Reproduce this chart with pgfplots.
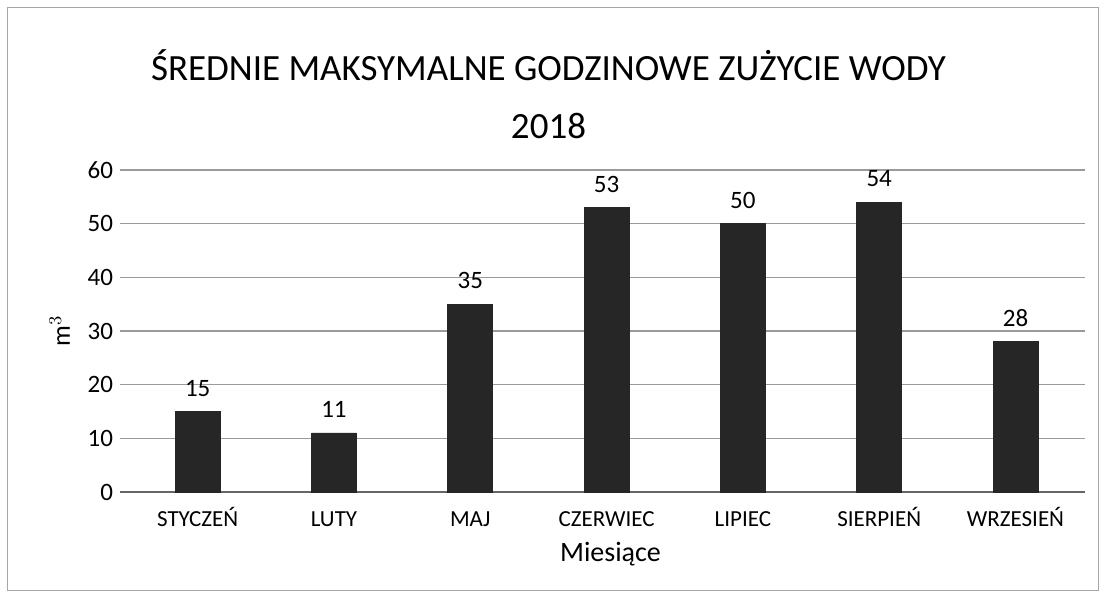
\documentclass[border=0pt]{standalone}
\usepackage{pgfplots}
\pgfplotsset{compat=1.18}
\usepackage{fontspec}
\setmainfont{Carlito}
\definecolor{barc}{HTML}{262626}
\definecolor{gridc}{HTML}{9A9A9A}
\begin{document}
\begin{tikzpicture}
\useasboundingbox (-60pt,-54.5pt) rectangle (491.5pt,246pt);
\draw[gray!70, line width=0.5pt] (-56pt,-49pt) rectangle (489pt,242pt);
\begin{axis}[
  at={(0pt,0pt)}, anchor=south west,
  scale only axis, width=482.5pt, height=161pt,
  xmin=-0.57, xmax=6.51, ymin=0, ymax=60,
  ytick={0,10,...,60},
  xtick=data,
  xticklabels={STYCZEŃ,LUTY,MAJ,CZERWIEC,LIPIEC,SIERPIEŃ,WRZESIEŃ},
  xticklabel style={font=\fontsize{11.5}{13}\selectfont, text height=1.6ex, text depth=0.2ex, yshift=-6pt},
  yticklabel style={font=\fontsize{12.5}{14}\selectfont},
  /pgf/number format/assume math mode=true,
  axis line style={draw=none},
  major tick length=0pt,
  ymajorgrids, grid style={gridc, line width=0.6pt},
  extra y ticks={0}, extra y tick labels={}, extra y tick style={grid style={black!60, line width=0.8pt}},
  ybar, bar width=22.5pt,
  nodes near coords,
  every node near coord/.append style={font=\fontsize{12.5}{14}\selectfont, black, yshift=4pt},
  xlabel={Miesiące}, xlabel style={font=\fontsize{14}{16}\selectfont, yshift=0pt, xshift=4pt},
  ylabel={m$^{3}$}, ylabel style={font=\fontsize{13}{15}\selectfont, yshift=2pt},
  title={ŚREDNIE MAKSYMALNE GODZINOWE ZUŻYCIE WODY\\2018},
  title style={font=\fontsize{18.5}{29}\selectfont, align=center, yshift=6pt, xshift=-27pt},
  clip=false,
]
\addplot[fill=barc, draw=barc] coordinates {(0,15) (1,11) (2,35) (3,53) (4,50) (5,54) (6,28)};
\end{axis}
\end{tikzpicture}
\end{document}
